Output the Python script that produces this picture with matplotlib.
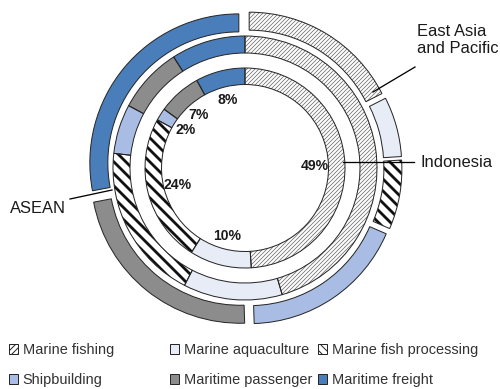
import matplotlib
matplotlib.use("Agg")
import matplotlib.pyplot as plt
from matplotlib.patches import Patch

plt.rcParams["font.family"] = ["Liberation Sans", "DejaVu Sans"]

# shares by sector (%), clockwise from 12 o'clock
sectors = ["Marine fishing", "Marine aquaculture", "Marine fish processing",
           "Shipbuilding", "Maritime passenger", "Maritime freight"]
indonesia = [49, 10, 24, 2, 7, 8]
asean = [45, 12, 19, 6, 8, 9]
east_asia = [17.5, 6.5, 7.5, 18, 22.5, 28]

# styling per sector
face = ["white", "#e8ecf6", "white", "#a8bce4", "#8c8c8c", "#4a7ebb"]
hatches = ["//////", None, "\\\\", None, None, None]
hatch_col = ["#6e6e6e", None, "#111111", None, None, None]
hatch_lw = [0.75, None, 2.8, None, None, None]
edge = "#262626"

fig = plt.figure(figsize=(500 / 72, 389 / 72), dpi=72)
ax = fig.add_axes([0, 0, 1, 1])


def ring(values, radius, width, explode=None, pct=False):
    kw = dict(radius=radius, startangle=90, counterclock=False, explode=explode)
    extra = {}
    if pct:
        extra = dict(autopct="%d%%", pctdistance=0.7,
                     textprops=dict(fontsize=14, fontweight="bold", color="#1a1a1a"))
    ax.pie(values, colors=face, wedgeprops=dict(width=width, linewidth=0), **kw, **extra)
    # hatching, one layer per hatched sector so each keeps its own line width
    for i, h in enumerate(hatches):
        if not h:
            continue
        with plt.rc_context({"hatch.linewidth": hatch_lw[i]}):
            ws = ax.pie(values, wedgeprops=dict(width=width, fill=False, linewidth=0), **kw)[0]
            for j, w in enumerate(ws):
                if j != i:
                    w.remove()
                    continue
                w.set_hatch(h)
                w.set_edgecolor(hatch_col[i])
                if hasattr(w, "set_hatch_linewidth"):
                    w.set_hatch_linewidth(hatch_lw[i])
    # outlines on top
    ax.pie(values, wedgeprops=dict(width=width, fill=False, edgecolor=edge, linewidth=1.0), **kw)


ring(indonesia, 100, 16.5, pct=True)
ring(asean, 132, 17)
ring(east_asia, 149, 18, explode=[8] * len(east_asia))

lab = dict(fontsize=16.5, color="#1a1a1a")
line = dict(color="black", lw=1.3, zorder=5)
ax.plot([128, 170], [76, 101], **line)
ax.text(172, 128, "East Asia\nand Pacific", ha="left", va="center", **lab)
ax.plot([98, 169], [6, 6], **line)
ax.text(175, 6, "Indonesia", ha="left", va="center", **lab)
ax.plot([-175, -133], [-31, -22], **line)
ax.text(-235, -40, "ASEAN", ha="left", va="center", **lab)

ax.set_xlim(-245, 255)
ax.set_ylim(-221, 168)
ax.set_aspect("equal")
ax.axis("off")

# legend: three columns of two rows each
legend_hatch = ["////", None, "\\\\\\", None, None, None]
handles = [Patch(facecolor=f, edgecolor=edge, hatch=h, linewidth=1.0)
           for f, h in zip(face, legend_hatch)]

cols = [(0, 3), (1, 4), (2, 5)]
col_x = [9, 170, 318]
for (a, b), x0 in zip(cols, col_x):
    fig.legend([handles[a], handles[b]], [sectors[a], sectors[b]],
               loc="upper left", bbox_to_anchor=(x0 / 500, 1 - 343 / 389),
               frameon=False, fontsize=14.5, handlelength=0.65, handleheight=0.65,
               handletextpad=0.3, labelspacing=1.1, borderpad=0, borderaxespad=0,
               labelcolor="#333333")

fig.savefig("out.png", dpi=72)
